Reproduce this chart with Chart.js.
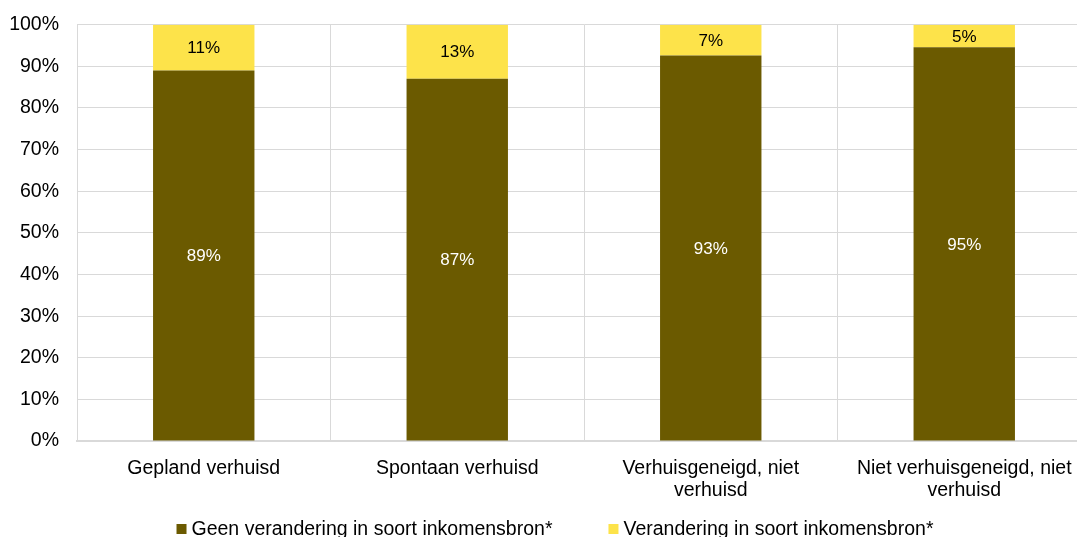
<!DOCTYPE html>
<html>
<head>
<meta charset="utf-8">
<script src="https://cdn.jsdelivr.net/npm/chart.js@4"></script>
<style>
html,body{margin:0;padding:0;background:#fff;overflow:hidden;width:1077px;height:537px;}
#wrap{position:absolute;left:0;top:-5px;width:1091px;height:542px;}
</style>
</head>
<body>
<div id="wrap"><canvas id="c"></canvas></div>
<script>
const categories = ["Gepland verhuisd", "Spontaan verhuisd", ["Verhuisgeneigd, niet", "verhuisd"], ["Niet verhuisgeneigd, niet", "verhuisd"]];
const seriesNames = ["Geen verandering in soort inkomensbron*", "Verandering in soort inkomensbron*"];
const geenVerandering = [89, 87, 92.6, 94.6];
const verandering = [11, 13, 7.4, 5.4];
const yTicks = [0, 10, 20, 30, 40, 50, 60, 70, 80, 90, 100];

const FONT = "'Liberation Sans', Arial, sans-serif";
const FS = 19.5;

const labelPlugin = {
  id: 'segLabels',
  afterDatasetsDraw(chart) {
    const ctx = chart.ctx;
    ctx.save();
    ctx.font = "17px " + FONT;
    ctx.textAlign = 'center';
    ctx.textBaseline = 'middle';
    chart.data.datasets.forEach((ds, di) => {
      const meta = chart.getDatasetMeta(di);
      meta.data.forEach((bar, i) => {
        const v = ds.data[i];
        const y = (bar.y + bar.base) / 2;
        ctx.fillStyle = di === 0 ? '#ffffff' : '#000000';
        ctx.fillText(Math.round(v) + '%', bar.x, y + 1);
      });
    });
    ctx.restore();
  }
};

// Legend drawn below the chart (wide spacing between items, as in the reference)
const legendPlugin = {
  id: 'wideLegend',
  afterDraw(chart) {
    const ctx = chart.ctx;
    ctx.save();
    ctx.font = FS + "px " + FONT;
    ctx.textBaseline = 'middle';
    ctx.textAlign = 'left';
    const box = 10, gapText = 5, gapItem = 56;
    const items = chart.data.datasets.map(ds => ({ text: ds.label, color: ds.backgroundColor, w: ctx.measureText(ds.label).width }));
    let total = 0;
    items.forEach((it, i) => { total += box + gapText + it.w + (i ? gapItem : 0); });
    const centerX = 555, cy = 534;
    let x = centerX - total / 2;
    items.forEach(it => {
      ctx.fillStyle = it.color;
      ctx.fillRect(x, cy - box / 2, box, box);
      ctx.fillStyle = '#000';
      ctx.fillText(it.text, x + box + gapText, cy + 1);
      x += box + gapText + it.w + gapItem;
    });
    ctx.restore();
  }
};

new Chart(document.getElementById('c'), {
  type: 'bar',
  data: {
    labels: categories,
    datasets: [
      { label: seriesNames[0], data: geenVerandering, backgroundColor: '#6b5a00', borderWidth: 0, categoryPercentage: 0.8, barPercentage: 0.5 },
      { label: seriesNames[1], data: verandering, backgroundColor: '#fde34a', borderWidth: 0, categoryPercentage: 0.8, barPercentage: 0.5 }
    ]
  },
  options: {
    responsive: true,
    maintainAspectRatio: false,
    animation: false,
    layout: { padding: { top: 7, right: 0, left: 0, bottom: 19 } },
    plugins: {
      tooltip: { enabled: false },
      legend: { display: false }
    },
    scales: {
      x: {
        stacked: true,
        grid: { offset: true, color: '#d9d9d9', lineWidth: 1, drawTicks: false },
        border: { color: '#d9d9d9', width: 2 },
        ticks: { font: { family: FONT, size: FS, lineHeight: 1.1 }, color: '#000', padding: 17, maxRotation: 0, autoSkip: false }
      },
      y: {
        stacked: true,
        min: 0, max: 100,
        afterBuildTicks(axis) { axis.ticks = yTicks.map(v => ({ value: v })); },
        afterFit(axis) { axis.width = 77; },
        grid: { color: '#d9d9d9', lineWidth: 1, drawTicks: false },
        border: { color: '#d9d9d9', width: 1 },
        ticks: { font: { family: FONT, size: FS }, color: '#000', padding: 18, callback: v => v + '%' }
      }
    }
  },
  plugins: [labelPlugin, legendPlugin]
});
</script>
</body>
</html>
